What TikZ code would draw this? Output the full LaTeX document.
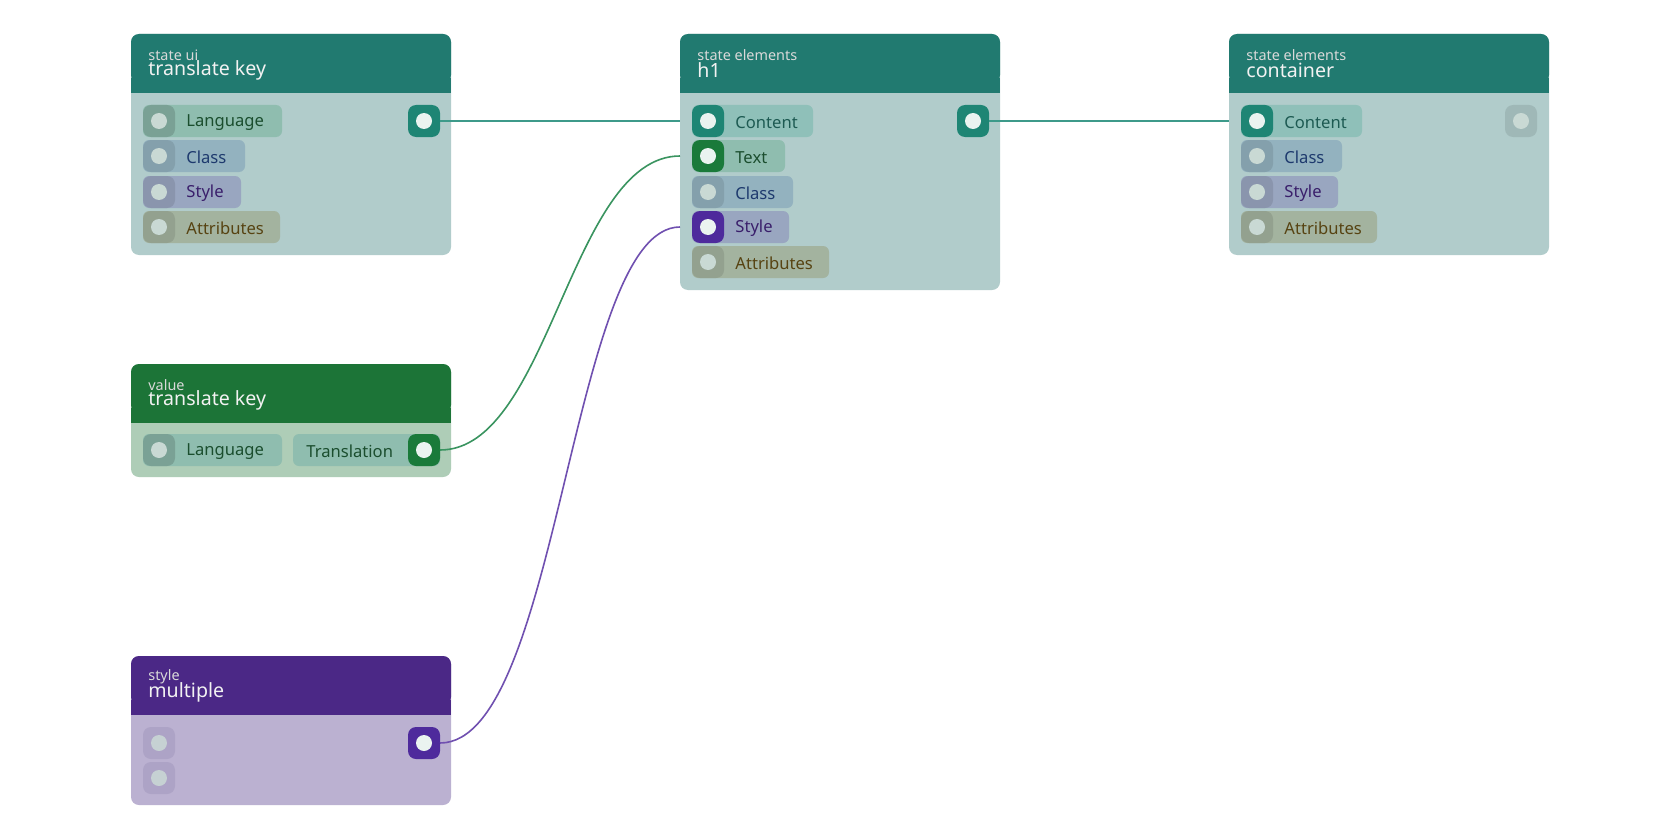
\documentclass[tikz,border=0pt]{standalone}
\usepackage{fontspec}
\setmainfont{Noto Sans}
\begin{document}
\begin{tikzpicture}[x=0.5pt,y=-0.5pt,
  lbl/.style={anchor=west,inner sep=0,font=\fontsize{8.3}{9}\selectfont},
  sub/.style={anchor=west,inner sep=0,font=\fontsize{7.2}{8}\selectfont,text=white!85!black},
  ttl/.style={anchor=west,inner sep=0,font=\fontsize{9.8}{11}\selectfont,text=white!95!black},
  wire/.style={line width=0.8pt}]
\definecolor{tealH}{HTML}{217A70}\definecolor{tealB}{HTML}{B1CCCB}
\definecolor{grnH}{HTML}{1C7437}\definecolor{grnB}{HTML}{AECDB7}
\definecolor{purH}{HTML}{4B2886}\definecolor{purB}{HTML}{BBB1D1}
\definecolor{pLang}{HTML}{8FBDAF}\definecolor{pClass}{HTML}{93B2BF}
\definecolor{pStyle}{HTML}{99A6C0}\definecolor{pAttr}{HTML}{A3B39F}
\definecolor{pCont}{HTML}{8FC0B9}\definecolor{pPur}{HTML}{ADA3C6}
\definecolor{tLang}{HTML}{1B4E2E}\definecolor{tClass}{HTML}{1E3A6E}
\definecolor{tStyle}{HTML}{3A1F6B}\definecolor{tAttr}{HTML}{574312}
\definecolor{tCont}{HTML}{1D5A52}
\definecolor{aTeal}{HTML}{1E8574}\definecolor{aGrn}{HTML}{1A7A3A}\definecolor{aPur}{HTML}{4E2A9C}
\definecolor{cOn}{HTML}{EAF3F0}\definecolor{cOff}{HTML}{C9D9D4}
\definecolor{wTeal}{HTML}{3D9A8A}\definecolor{wGrn}{HTML}{3A9460}\definecolor{wPur}{HTML}{7050B0}
\useasboundingbox (0,0) rectangle (1680,840);
\fill[white] (0,0) rectangle (1680,840);
\newcommand\mypill[9]{%
  \fill[#4,rounded corners=3pt] (#1,#2-16) rectangle (#3,#2+16);
  \fill[#5,rounded corners=4pt] (#1,#2-16) rectangle (#1+32,#2+16);
  \fill[#6] (#1+16,#2) circle (8);
  \coordinate (#9) at (#1,#2);
  \node[lbl,text=#7] at (#1+43,#2+1.5) {#8};}
\newcommand\myport[5]{%
  \fill[#3,rounded corners=4pt] (#1-16,#2-16) rectangle (#1+16,#2+16);
  \fill[#4] (#1,#2) circle (8);
  \coordinate (#5) at (#1+16,#2);}
\newcommand\mybox[8]{%
  \fill[#6,rounded corners=4pt] (#1,#2) rectangle (#1+320,#4);
  \fill[#5,rounded corners=4pt] (#1,#2) rectangle (#1+320,#3-10);
  \fill[#5] (#1,#3-15) rectangle (#1+320,#3);
  \node[sub] at (#1+17,#2+21) {#7};
  \node[ttl] at (#1+17,#2+36) {#8};}
% Node A
\mybox{131}{34}{93}{255}{tealH}{tealB}{state ui}{translate key}
\mypill{143}{121}{282}{pLang}{pLang!85!black}{cOff}{tLang}{Language}{aLang}
\mypill{143}{156}{245}{pClass}{pClass!90!black}{cOff}{tClass}{Class}{aClass}
\mypill{143}{192}{241}{pStyle}{pStyle!90!black}{cOff}{tStyle}{Style}{aStyle}
\mypill{143}{227}{280}{pAttr}{pAttr!90!black}{cOff}{tAttr}{Attributes}{aAttr}
\myport{424}{121}{aTeal}{cOn}{aOut}
% Node h1
\mybox{680}{34}{93}{290}{tealH}{tealB}{state elements}{h1}
\mypill{692}{121}{813}{pCont}{aTeal}{cOn}{tCont}{Content}{hCont}
\mypill{692}{156}{785}{pLang}{aGrn}{cOn}{tLang}{Text}{hText}
\mypill{692}{192}{793}{pClass}{pClass!90!black}{cOff}{tClass}{Class}{hClass}
\mypill{692}{227}{789}{pStyle}{aPur}{cOn}{tStyle}{Style}{hStyle}
\mypill{692}{262}{829}{pAttr}{pAttr!90!black}{cOff}{tAttr}{Attributes}{hAttr}
\myport{973}{121}{aTeal}{cOn}{hOut}
% Container
\mybox{1229}{34}{93}{255}{tealH}{tealB}{state elements}{container}
\mypill{1241}{121}{1362}{pCont}{aTeal}{cOn}{tCont}{Content}{cCont}
\mypill{1241}{156}{1342}{pClass}{pClass!90!black}{cOff}{tClass}{Class}{cClass}
\mypill{1241}{192}{1338}{pStyle}{pStyle!90!black}{cOff}{tStyle}{Style}{cStyle}
\mypill{1241}{227}{1377}{pAttr}{pAttr!90!black}{cOff}{tAttr}{Attributes}{cAttr}
\myport{1521}{121}{tealB!90!black}{cOff}{cOut}
% Value node
\mybox{131}{364}{423}{477}{grnH}{grnB}{value}{translate key}
\mypill{143}{450}{282}{pLang}{pLang!85!black}{cOff}{tLang}{Language}{vLang}
\fill[pLang,rounded corners=3pt] (293,434) rectangle (440,466);
\node[lbl,text=tLang] at (306,451.5) {Translation};
\myport{424}{450}{aGrn}{cOn}{vOut}
% Style node
\mybox{131}{656}{715}{805}{purH}{purB}{style}{multiple}
\fill[pPur,rounded corners=4pt] (143,727) rectangle (175,759);
\fill[cOff!80!purB] (159,743) circle (8);
\fill[pPur,rounded corners=4pt] (143,762) rectangle (175,794);
\fill[cOff!80!purB] (159,778) circle (8);
\myport{424}{743}{aPur}{cOn}{sOut}
% wires
\coordinate (hContIn) at (680,121);
\coordinate (hTextIn) at (680,156);
\coordinate (hStyleIn) at (680,227);
\coordinate (cContIn) at (1229,121);
\draw[wire,wTeal] (aOut) -- (hContIn);
\draw[wire,wTeal] (hOut) -- (cContIn);
\draw[wire,wGrn] (vOut) .. controls (550,450) and (570,156) .. (hTextIn);
\draw[wire,wPur] (sOut) .. controls (560,743) and (570,227) .. (hStyleIn);
\end{tikzpicture}
\end{document}
